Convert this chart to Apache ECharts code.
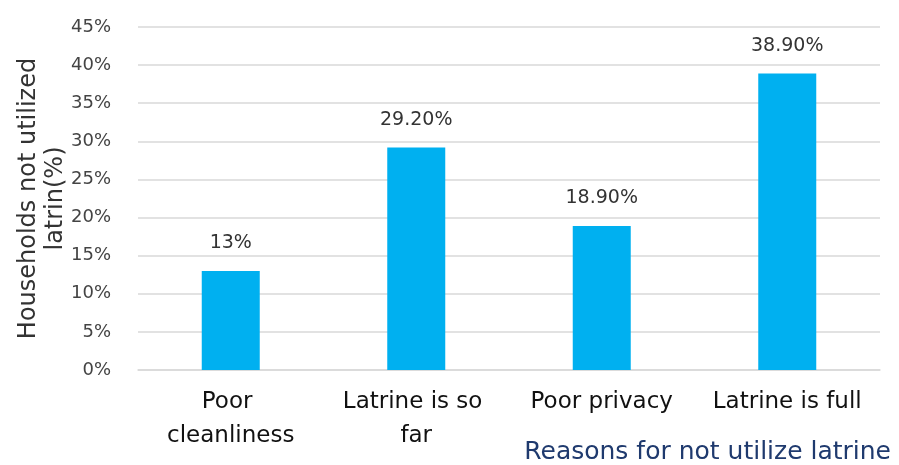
<!DOCTYPE html>
<html><head><meta charset="utf-8">
<script src="https://cdn.jsdelivr.net/npm/echarts@6/dist/echarts.min.js"></script>
<style>html,body{margin:0;padding:0;background:#fff}#c{width:899px;height:465px}</style>
</head><body><div id="c"></div>
<script>
const categories = ["Poor cleanliness", "Latrine is so far", "Poor privacy", "Latrine is full"];
const values = [13, 29.2, 18.9, 38.9];
const valueLabels = ["13%", "29.20%", "18.90%", "38.90%"];
const yTicks = [0, 5, 10, 15, 20, 25, 30, 35, 40, 45];
const yTitle = "Households not utilized\nlatrin(%)";
const xTitle = "Reasons for not utilize latrine";

const chart = echarts.init(document.getElementById('c'), null, {renderer: 'canvas'});
const font = 'DejaVu Sans';
chart.setOption({
  animation: false,
  title: {text: xTitle, right: 3, top: 435,
    textStyle: {color: '#1f3a6e', fontFamily: font, fontSize: 25, fontWeight: 'normal'}},
  grid: {left: 138, right: 19, top: 27, bottom: 95, containLabel: false, outerBoundsMode: 'none'},
  xAxis: {
    type: 'category', data: categories,
    axisLine: {lineStyle: {color: '#d9d9d9', width: 1.5}},
    axisTick: {show: false},
    axisLabel: {color: '#111', fontFamily: font, fontSize: 23, lineHeight: 34, margin: 15,
      width: 162, overflow: 'break', interval: 0}
  },
  yAxis: {
    type: 'value', min: yTicks[0], max: yTicks[yTicks.length - 1], interval: 5,
    axisLine: {show: false}, axisTick: {show: false},
    splitLine: {lineStyle: {color: '#d9d9d9', width: 1.5}},
    axisLabel: {color: '#444', fontFamily: font, fontSize: 18, margin: 27, formatter: v => v + '%'},
    name: yTitle, nameLocation: 'middle', nameRotate: 90, nameGap: 69, nameMoveOverlap: false,
    nameTextStyle: {color: '#333', fontFamily: font, fontSize: 24, lineHeight: 27}
  },
  series: [{
    type: 'bar', data: values, barWidth: 58,
    itemStyle: {color: '#00b0f0'},
    label: {show: true, position: 'top', distance: 18, color: '#333', fontFamily: font, fontSize: 19,
      formatter: p => valueLabels[p.dataIndex]}
  }]
});
</script></body></html>
